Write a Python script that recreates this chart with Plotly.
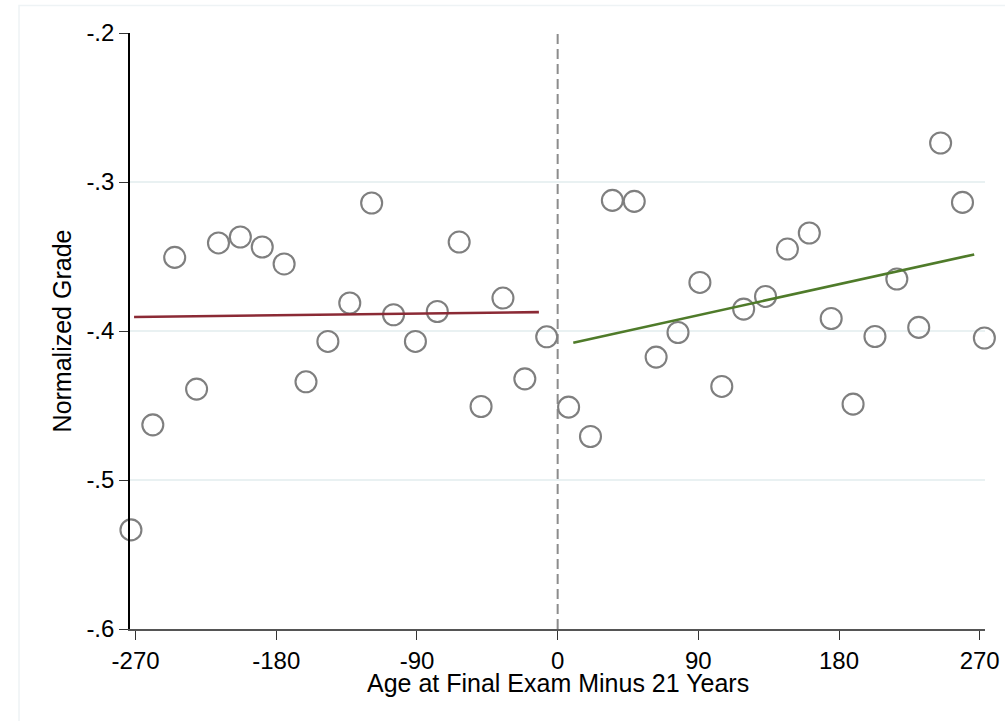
import plotly.graph_objects as go

# Binned data (14-day bins)
left_x = [-273, -259, -245, -231, -217, -203, -189, -175, -161, -147,
          -133, -119, -105, -91, -77, -63, -49, -35, -21, -7]
left_y = [-0.5335, -0.4630, -0.3506, -0.4390, -0.3409, -0.3369, -0.3436, -0.3550, -0.4341, -0.4070,
          -0.3812, -0.3141, -0.3891, -0.4070, -0.3869, -0.3403, -0.4507, -0.3779, -0.4321, -0.4039]
right_x = [7, 21, 35, 49, 63, 77, 91, 105, 119, 133,
           147, 161, 175, 189, 203, 217, 231, 245, 259, 273]
right_y = [-0.4511, -0.4708, -0.3123, -0.3130, -0.4175, -0.4010, -0.3674, -0.4372, -0.3853, -0.3768,
           -0.3450, -0.3342, -0.3916, -0.4491, -0.4037, -0.3651, -0.3976, -0.2738, -0.3137, -0.4047]

# Linear fit lines (endpoints)
fit_left_x = [-271, -12]
fit_left_y = [-0.3906, -0.3873]
fit_right_x = [10, 266.5]
fit_right_y = [-0.4079, -0.3486]

cutoff_x = [0, 0]
cutoff_y = [-0.6, -0.2]

x_ticks = [-270, -180, -90, 0, 90, 180, 270]
x_tick_text = ["-270", "-180", "-90", "0", "90", "180", "270"]
y_ticks = [-0.6, -0.5, -0.4, -0.3, -0.2]
y_tick_text = ["-.6", "-.5", "-.4", "-.3", "-.2"]

x_title = "Age at Final Exam Minus 21 Years"
y_title = "Normalized Grade"

FONT = "Liberation Sans, Arial, Helvetica, sans-serif"
marker_style = dict(symbol="circle-open", size=21, color="#7f7f7f",
                    line=dict(width=2.1, color="#7f7f7f"))

fig = go.Figure()
fig.add_trace(go.Scatter(x=cutoff_x, y=cutoff_y, mode="lines",
                         line=dict(color="#8c8c8c", width=2, dash="10px,5px"),
                         showlegend=False, hoverinfo="skip"))
fig.add_trace(go.Scatter(x=left_x, y=left_y, mode="markers", marker=marker_style,
                         showlegend=False, cliponaxis=False))
fig.add_trace(go.Scatter(x=right_x, y=right_y, mode="markers", marker=marker_style,
                         showlegend=False, cliponaxis=False))
fig.add_trace(go.Scatter(x=fit_left_x, y=fit_left_y, mode="lines",
                         line=dict(color="#8b2a35", width=2.6), showlegend=False))
fig.add_trace(go.Scatter(x=fit_right_x, y=fit_right_y, mode="lines",
                         line=dict(color="#4f7b2a", width=2.6), showlegend=False))

# faint outer graph-region frame
fig.add_shape(type="rect", xref="paper", yref="paper",
              x0=-0.1298, x1=1.04, y0=-0.17, y1=1.0462,
              line=dict(color="#eef3f5", width=1.5), fillcolor="rgba(0,0,0,0)", layer="below")

# x-axis title as annotation for precise placement
fig.add_annotation(text=x_title, xref="paper", yref="paper", x=0.5, y=-0.0906,
                   xanchor="center", yanchor="middle", showarrow=False,
                   font=dict(size=25, family=FONT, color="black"))

fig.update_layout(
    width=1005, height=721,
    margin=dict(l=130, r=20, t=33, b=92, autoexpand=False),
    paper_bgcolor="white", plot_bgcolor="white",
    font=dict(family=FONT, size=24, color="black"),
    xaxis=dict(range=[-273.6, 273.4], tickmode="array", tickvals=x_ticks, ticktext=x_tick_text,
               ticks="outside", ticklen=9, tickwidth=1.3, tickcolor="#333333",
               showline=True, linecolor="#555555", linewidth=1.6,
               showgrid=False, zeroline=False,
               tickfont=dict(size=24)),
    yaxis=dict(range=[-0.6, -0.2], tickmode="array", tickvals=y_ticks, ticktext=y_tick_text,
               ticks="outside", ticklen=9, tickwidth=1.3, tickcolor="#333333",
               showline=True, linecolor="black", linewidth=1.6,
               showgrid=True, gridcolor="#e9f1f2", gridwidth=2, zeroline=False,
               tickfont=dict(size=24),
               title=dict(text=y_title, font=dict(size=25), standoff=8)),
)

fig.write_html("out.html", config={"displayModeBar": False},
               post_script="document.body.style.margin='0';document.body.style.overflow='hidden';")
